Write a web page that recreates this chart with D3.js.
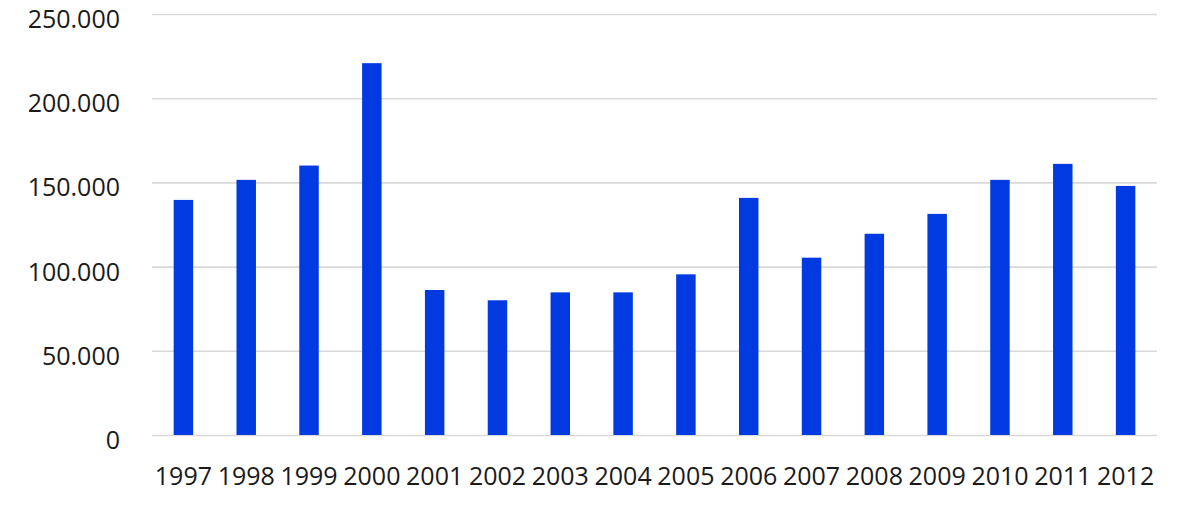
<!DOCTYPE html>
<html>
<head>
<meta charset="utf-8">
<script src="https://cdn.jsdelivr.net/npm/d3@7"></script>
<style>
  html, body { margin: 0; padding: 0; background: #fff; }
  svg { display: block; }
  text { font-family: "Open Sans", "Liberation Sans", sans-serif; fill: #1a1a1a; }
</style>
</head>
<body>
<svg id="chart" width="1189" height="505"></svg>
<script>
const years = ["1997","1998","1999","2000","2001","2002","2003","2004","2005","2006","2007","2008","2009","2010","2011","2012"];
const values = [139600,151500,160000,220800,86100,80000,84700,84700,95400,140800,105300,119500,131300,151500,161000,147900];
const yTicks = [0,50000,100000,150000,200000,250000];
const yTickLabels = ["0","50.000","100.000","150.000","200.000","250.000"];

const svg = d3.select("#chart");
const margin = {left: 152, right: 32, top: 14, bottom: 70};
const W = 1189, H = 505;
const x0 = margin.left, x1 = W - margin.right;
const y0 = H - margin.bottom, y1 = margin.top;

const x = d3.scaleBand().domain(years).range([x0, x1]).paddingInner(0.69).paddingOuter(0.345);
const y = d3.scaleLinear().domain([0, 250000]).range([y0, y1]);

// gridlines + y labels
const yAxis = d3.axisLeft(y).tickValues(yTicks).tickSize(-(x1 - x0)).tickFormat((d, i) => yTickLabels[i]).tickPadding(32);
const gy = svg.append("g").attr("transform", `translate(${x0},0)`).call(yAxis);
gy.select(".domain").remove();
gy.selectAll(".tick line").attr("stroke", "#d9d9d9").attr("stroke-width", 1.6);
gy.selectAll(".tick text").attr("font-size", 25).attr("dy", "13.5px").style("fill", "#1a1a1a");

// bars
svg.append("g").selectAll("rect").data(years).join("rect")
  .attr("x", d => x(d))
  .attr("width", x.bandwidth())
  .attr("y", (d, i) => y(values[i]))
  .attr("height", (d, i) => y(0) - y(values[i]))
  .attr("fill", "#003ae0");

// x axis labels
const xAxis = d3.axisBottom(x).tickSize(0).tickPadding(32);
const gx = svg.append("g").attr("transform", `translate(0,${y0})`).call(xAxis);
gx.select(".domain").remove();
gx.selectAll(".tick text").attr("font-size", 25).style("fill", "#1a1a1a");
</script>
</body>
</html>
